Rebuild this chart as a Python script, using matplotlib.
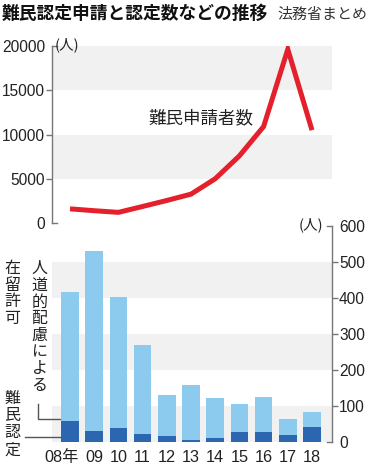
import matplotlib
matplotlib.use("Agg")
import matplotlib.pyplot as plt
from matplotlib import font_manager as fm

# ---------------- data ----------------
years = ["08年", "09", "10", "11", "12", "13", "14", "15", "16", "17", "18"]
applicants = [1599, 1388, 1202, 1867, 2545, 3260, 5000, 7586, 10901, 19629, 10493]
recognized = [57, 30, 39, 21, 18, 6, 11, 27, 28, 20, 42]
humanitarian = [360, 501, 363, 248, 112, 151, 110, 79, 97, 45, 40]
top_ticks = [0, 5000, 10000, 15000, 20000]
bottom_ticks = [0, 100, 200, 300, 400, 500, 600]

title = "難民認定申請と認定数などの推移"
source = "法務省まとめ"
line_label = "難民申請者数"
unit = "(人)"
label_hum_1 = "人道的配慮による"
label_hum_2 = "在留許可"
label_rec = "難民認定"


def pick(names):
    for n in names:
        try:
            fm.findfont(fm.FontProperties(family=n), fallback_to_default=False)
            return n
        except Exception:
            pass
    return "DejaVu Sans"


NUM = pick(["Liberation Sans Narrow", "Liberation Sans"])
NARROW = NUM == "Liberation Sans Narrow"
NUMSIZE = 13.2 if NARROW else 11.2
CJK = "Noto Sans CJK JP"
MIX = [NUM, CJK]

RED = "#E3202B"
LIGHT = "#8CCAEE"
DARK = "#2C66B0"
BAND = "#F1F1F1"
AXC = "#777777"
TXT = "#222222"

W, H = 372, 467
fig = plt.figure(figsize=(W / 100, H / 100), dpi=100)


def P(x, y):
    return x / W, 1 - y / H


x = list(range(len(years)))
xl = (-18 / 24.2, 10 + 20 / 24.2)

# ---------------- top chart ----------------
ax1 = fig.add_axes([52 / W, 1 - 223 / H, 280 / W, 177 / H])
ax1.set_xlim(*xl)
ax1.set_ylim(0, 20000)
for lo, hi in [(15000, 20000), (5000, 10000)]:
    ax1.axhspan(lo, hi, color=BAND, lw=0, zorder=0)
ax1.plot(x, applicants, color=RED, lw=3.6, solid_joinstyle="miter",
         solid_capstyle="butt", zorder=3)
for s in ["top", "right", "bottom"]:
    ax1.spines[s].set_visible(False)
ax1.spines["left"].set_color(AXC)
ax1.spines["left"].set_linewidth(1)
ax1.set_xticks([])
ax1.set_yticks(top_ticks, [str(v) for v in top_ticks])
ax1.tick_params(axis="y", length=4, width=1, color=AXC, pad=1,
                labelsize=NUMSIZE, labelcolor=TXT)
for lab in ax1.get_yticklabels():
    lab.set_fontfamily(NUM)
mt = ax1.yaxis.get_major_ticks()
mt[0].tick1line.set_visible(False)
mt[-1].tick1line.set_visible(False)
for yy in (0, 1):
    ax1.plot([0, 5 / 280], [yy, yy], transform=ax1.transAxes, color=AXC,
             lw=1, clip_on=False)

# ---------------- bottom chart ----------------
ax2 = fig.add_axes([52 / W, 1 - 442 / H, 280 / W, 216 / H])
ax2.set_xlim(*xl)
ax2.set_ylim(0, 600)
for lo, hi in [(400, 500), (200, 300), (0, 100)]:
    ax2.axhspan(lo, hi, color=BAND, lw=0, zorder=0)
bw = 0.72
ax2.bar(x, recognized, width=bw, color=DARK, lw=0, zorder=2)
ax2.bar(x, humanitarian, width=bw, bottom=recognized, color=LIGHT, lw=0,
        zorder=2)
for s in ["top", "left", "bottom"]:
    ax2.spines[s].set_visible(False)
ax2.spines["right"].set_color(AXC)
ax2.spines["right"].set_linewidth(1)
ax2.set_xticks([])
ax2.yaxis.tick_right()
ax2.set_yticks(bottom_ticks, [str(v) for v in bottom_ticks])
ax2.tick_params(axis="y", length=4, width=1, color=AXC, pad=1,
                labelsize=NUMSIZE, labelcolor=TXT)
for lab in ax2.get_yticklabels():
    lab.set_fontfamily(NUM)
mt2 = ax2.yaxis.get_major_ticks()
mt2[0].tick2line.set_visible(False)
mt2[-1].tick2line.set_visible(False)
for yy in (0, 1):
    ax2.plot([1 - 5 / 280, 1], [yy, yy], transform=ax2.transAxes, color=AXC,
             lw=1, clip_on=False)

# x labels
for i, lab in enumerate(years):
    if i == 0:
        ax2.text(i + bw / 2, -0.035, lab, transform=ax2.get_xaxis_transform(),
                 ha="right", va="top", fontsize=NUMSIZE + 0.5, family=MIX,
                 color=TXT)
    else:
        ax2.text(i, -0.035, lab, transform=ax2.get_xaxis_transform(),
                 ha="center", va="top", fontsize=NUMSIZE + 0.5, family=MIX,
                 color=TXT)

# ---------------- texts ----------------
fig.text(*P(2, 14), title, ha="left", va="center", fontsize=12.8,
         family=CJK, weight="bold", color="#111111")
fig.text(*P(277, 15), source, ha="left", va="center", fontsize=10.8,
         family=CJK, color="#333333")
fig.text(*P(55, 45), unit, ha="left", va="center", fontsize=10.5,
         family=CJK, color=TXT)
fig.text(*P(323, 225), unit, ha="right", va="center", fontsize=10.5,
         family=CJK, color=TXT)
fig.text(*P(148, 118), line_label, ha="left", va="center", fontsize=12.6,
         family=CJK, color=TXT)

# vertical labels
for k, ch in enumerate(label_hum_1):
    fig.text(*P(39.5, 268.5 + 16.7 * k), ch, ha="center", va="center",
             fontsize=11.5, family=CJK, color=TXT)
for k, ch in enumerate(label_hum_2):
    fig.text(*P(12.5, 268.5 + 16.7 * k), ch, ha="center", va="center",
             fontsize=11.5, family=CJK, color=TXT)
for k, ch in enumerate(label_rec):
    fig.text(*P(12.5, 398 + 17.3 * k), ch, ha="center", va="center",
             fontsize=11.5, family=CJK, color=TXT)

# leader lines
lx, ly = P(38, 404)
lx2, ly2 = P(38, 419)
lx3, _ = P(60, 419)
fig.add_artist(plt.Line2D([lx, lx2, lx3], [ly, ly2, ly2], color="#555555",
                          lw=1, transform=fig.transFigure))
a, b = P(25, 437)
c, _ = P(61, 437)
fig.add_artist(plt.Line2D([a, c], [b, b], color="#555555", lw=1,
                          transform=fig.transFigure))

fig.savefig("out.png", dpi=100, facecolor="white")
